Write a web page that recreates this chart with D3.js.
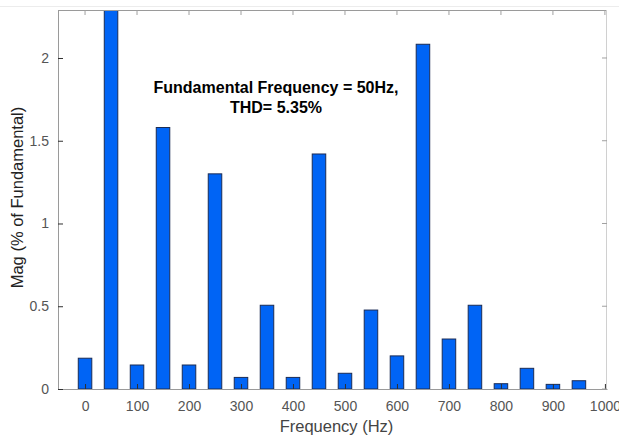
<!DOCTYPE html>
<html>
<head>
<meta charset="utf-8">
<script src="https://cdn.jsdelivr.net/npm/d3@7"></script>
<style>
  body { margin: 0; background: #fff; overflow: hidden; }
  text { font-family: "Liberation Sans", Arial, sans-serif; }
</style>
</head>
<body>
<div id="chart"></div>
<script>
// harmonic frequencies (Hz) and magnitudes (% of fundamental)
let freqs = [0, 50, 100, 150, 200, 250, 300, 350, 400, 450, 500, 550, 600, 650, 700, 750, 800, 850, 900, 950];
let mags = [0.186, 100, 0.145, 1.58, 0.145, 1.30, 0.07, 0.506, 0.07, 1.42, 0.095, 0.477, 0.20, 2.083, 0.302, 0.506, 0.032, 0.125, 0.028, 0.05];
let xTicks = [0, 100, 200, 300, 400, 500, 600, 700, 800, 900, 1000];
let yTicks = [0, 0.5, 1, 1.5, 2];

let svgWidth = 619;
let svgHeight = 436;
let margin = { top: 10, right: 12, bottom: 47, left: 58 };
let chartWidth = svgWidth - margin.left - margin.right;
let chartHeight = svgHeight - margin.top - margin.bottom;

let svg = d3.select("#chart")
  .append("svg")
  .attr("width", svgWidth)
  .attr("height", svgHeight);

// faint figure border line at top
svg.append("line")
  .attr("x1", 0).attr("x2", svgWidth)
  .attr("y1", 6.5).attr("y2", 6.5)
  .attr("stroke", "#ececec");

let chartGroup = svg.append("g")
  .attr("transform", `translate(${margin.left}, ${margin.top})`);

let xScale = d3.scaleLinear().domain([-52, 1004]).range([0, chartWidth]);
let yScale = d3.scaleLinear().domain([0, 2.29]).range([chartHeight, 0]);

let barW = xScale(26) - xScale(0);

chartGroup.append("clipPath").attr("id", "clip")
  .append("rect").attr("width", chartWidth).attr("height", chartHeight);

// bars
chartGroup.append("g")
  .attr("clip-path", "url(#clip)")
  .selectAll("rect")
  .data(freqs)
  .enter()
  .append("rect")
  .attr("x", (d) => xScale(d) - barW / 2)
  .attr("y", (d, i) => yScale(Math.min(mags[i], 3)))
  .attr("width", barW)
  .attr("height", (d, i) => chartHeight - yScale(Math.min(mags[i], 3)))
  .attr("fill", "#0064f5")
  .attr("stroke", "#1b2c55")
  .attr("stroke-width", 1);

// box
chartGroup.append("line")
  .attr("x1", 0).attr("x2", chartWidth).attr("y1", 0.5).attr("y2", 0.5)
  .attr("stroke", "#9a9a9a");
chartGroup.append("line")
  .attr("x1", chartWidth - 0.5).attr("x2", chartWidth - 0.5).attr("y1", 0).attr("y2", chartHeight)
  .attr("stroke", "#d0d0d0");

// axes, ticks pointing inward like matlab
let xAxis = d3.axisBottom(xScale).tickValues(xTicks).tickSizeInner(-5).tickSizeOuter(0).tickPadding(10)
  .tickFormat(d3.format("d"));
let yAxis = d3.axisLeft(yScale).tickValues(yTicks).tickSizeInner(-5).tickSizeOuter(0).tickPadding(9)
  .tickFormat(d3.format("~g"));

let gx = chartGroup.append("g")
  .attr("transform", `translate(0, ${chartHeight})`)
  .call(xAxis);
let gy = chartGroup.append("g").call(yAxis);

[gx, gy].forEach(function (g) {
  g.select(".domain").attr("stroke", "#9a9a9a");
  g.selectAll(".tick line").attr("stroke", "#303030");
  g.selectAll(".tick text").attr("fill", "#555").style("font-size", "14px");
});
gx.selectAll(".tick text").attr("dy", "0.85em");

// top and right tick marks
chartGroup.append("g")
  .selectAll("line")
  .data(xTicks)
  .enter()
  .append("line")
  .attr("x1", (d) => xScale(d)).attr("x2", (d) => xScale(d))
  .attr("y1", 0).attr("y2", 5)
  .attr("stroke", "#a0a0a0");
chartGroup.append("g")
  .selectAll("line")
  .data(yTicks)
  .enter()
  .append("line")
  .attr("x1", chartWidth - 5).attr("x2", chartWidth)
  .attr("y1", (d) => yScale(d)).attr("y2", (d) => yScale(d))
  .attr("stroke", "#a0a0a0");

// labels
chartGroup.append("text")
  .attr("x", chartWidth / 2 + 4)
  .attr("y", chartHeight + 43)
  .attr("text-anchor", "middle")
  .attr("fill", "#444")
  .style("font-size", "16.5px")
  .text("Frequency (Hz)");

chartGroup.append("text")
  .attr("transform", `translate(-35, ${chartHeight / 2 - 2}) rotate(-90)`)
  .attr("text-anchor", "middle")
  .attr("fill", "#222")
  .style("font-size", "16.5px")
  .text("Mag (% of Fundamental)");

// annotation
let note = chartGroup.append("text")
  .attr("text-anchor", "middle")
  .attr("fill", "#000")
  .style("font-size", "16px")
  .style("font-weight", "bold");
note.append("tspan").attr("x", 218).attr("y", 83).text("Fundamental Frequency = 50Hz,");
note.append("tspan").attr("x", 218).attr("y", 103).text("THD= 5.35%");
</script>
</body>
</html>
